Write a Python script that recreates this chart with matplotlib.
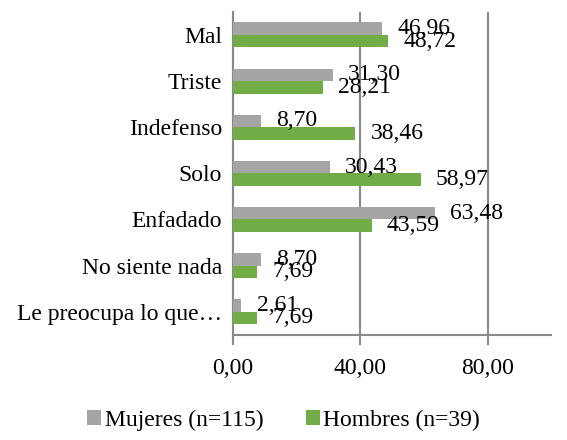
import numpy as np
import matplotlib
matplotlib.use("Agg")
import matplotlib.pyplot as plt

plt.rcParams['font.family'] = ['Liberation Serif', 'DejaVu Serif']

categories = ['Mal', 'Triste', 'Indefenso', 'Solo', 'Enfadado',
              'No siente nada', 'Le preocupa lo que…']
mujeres = [46.96, 31.30, 8.70, 30.43, 63.48, 8.70, 2.61]
hombres = [48.72, 28.21, 38.46, 58.97, 43.59, 7.69, 7.69]
labels_m = ['46,96', '31,30', '8,70', '30,43', '63,48', '8,70', '2,61']
labels_h = ['48,72', '28,21', '38,46', '58,97', '43,59', '7,69', '7,69']

gray = '#A5A5A5'
green = '#70AD47'
grid_c = '#898989'
fs = 17

fig = plt.figure(figsize=(5.67, 4.40), dpi=100)
ax = fig.add_axes([0.411, 0.239, 0.561, 0.734])

y = np.arange(len(categories))[::-1].astype(float)
h = 0.27
ax.barh(y + h / 2, mujeres, height=h, color=gray, label='Mujeres (n=115)', zorder=3)
ax.barh(y - h / 2, hombres, height=h, color=green, label='Hombres (n=39)', zorder=3)

for yi, v, t in zip(y, mujeres, labels_m):
    ax.annotate(t, (v, yi + h / 2), xytext=(11, 0), textcoords='offset points',
                ha='left', va='center', fontsize=fs, zorder=4)
for yi, v, t in zip(y, hombres, labels_h):
    ax.annotate(t, (v, yi - h / 2), xytext=(11, 0), textcoords='offset points',
                ha='left', va='center', fontsize=fs, zorder=4)

ax.set_xlim(0, 100)
ax.set_ylim(-0.5, len(categories) - 0.5)
ax.set_xticks([0, 40, 80])
ax.set_xticklabels(['0,00', '40,00', '80,00'], fontsize=fs)
ax.set_yticks(y)
ax.set_yticklabels(categories, fontsize=fs)
ax.tick_params(axis='y', length=0, pad=8)
ax.tick_params(axis='x', length=7, width=1.5, color=grid_c, pad=10)

for x in [40, 80]:
    ax.axvline(x, color=grid_c, lw=1.5, zorder=1)
for s in ['top', 'right']:
    ax.spines[s].set_visible(False)
for s in ['left', 'bottom']:
    ax.spines[s].set_color(grid_c)
    ax.spines[s].set_linewidth(1.5)

fig.legend(loc='center', bbox_to_anchor=(0.5, 0.045), ncol=2, frameon=False,
           fontsize=fs, handlelength=0.6, handleheight=0.6, handletextpad=0.15,
           columnspacing=1.8)

fig.savefig('out.png', dpi=100)
